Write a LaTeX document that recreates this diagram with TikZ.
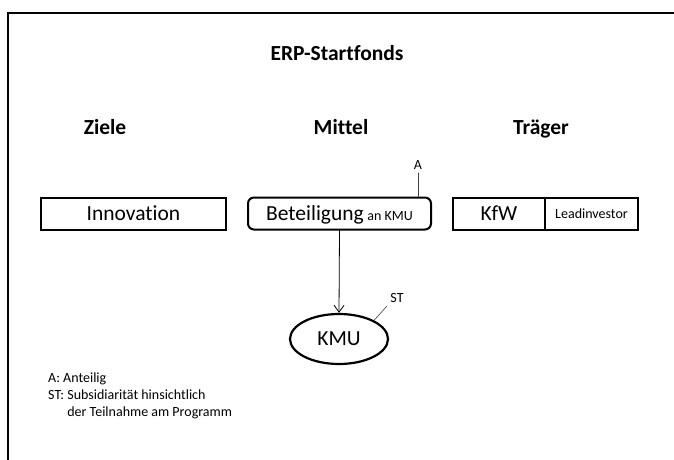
\documentclass[tikz,border=0pt]{standalone}
\usepackage{fontspec}
\setmainfont{Carlito}[Ligatures=NoCommon]
\usetikzlibrary{arrows.meta,shapes.geometric}
\begin{document}
\begin{tikzpicture}[x=1pt,y=-1pt,line cap=round,
	head/.style={anchor=base,font=\fontsize{21.5}{24}\selectfont\bfseries},
	box/.style={draw,line width=2pt,minimum height=32pt,inner sep=0pt,text height=14pt,text depth=0pt,
		font=\fontsize{21.5}{24}\selectfont},
	small/.style={font=\fontsize{14}{16}\selectfont},
	note/.style={draw=black!75,line width=0.6pt}]
	\useasboundingbox (0,0) rectangle (674,460);
	\draw [line width=1.6pt] (8,462) -- (8,13) -- (676,13);
	
	\node [head] (title) at (337,60) {ERP-Startfonds};
	\node [head] (ziele) at (105,134) {Ziele};
	\node [head] (mittel) at (341,134) {Mittel};
	\node [head] (traeger) at (541,134) {Träger};
	
	\node [box,minimum width=185pt] (innov) at (133.5,213.5) {Innovation};
	\node [box,rounded corners=6pt,minimum width=183pt] (bet) at (339.5,213.5)
		{Beteiligung\,{\fontsize{14}{16}\selectfont an KMU}};
	\node [box,minimum width=92pt] (kfw) at (499,213.5) {KfW};
	\node [box,minimum width=93pt,text height=10pt,font=\fontsize{14}{16}\selectfont] (lead) at (591.5,213.5) {Leadinvestor};
	
	\node [draw,ellipse,line width=2.2pt,minimum width=98pt,minimum height=50pt,inner sep=0pt,
		font=\fontsize{21.5}{24}\selectfont] (kmu) at (339,339) {KMU};
	\draw [line width=0.8pt,-{Straight Barb[length=7pt,width=10pt]}] (bet.south) -- (kmu.north);
	
	\node [small] (labA) at (418,165) {A};
	\draw [note] (labA.south) -- (labA |- bet.north);
	\node [small] (labST) at (397,298) {ST};
	\draw [note] (kmu.28) -- (labST.south west);
	
	\node [anchor=north west,align=left,inner sep=0pt,font=\fontsize{14}{17}\selectfont] (legend) at (48,373)
		{A: Anteilig\\ST: Subsidiarität hinsichtlich\\\phantom{ST: }der Teilnahme am Programm};
\end{tikzpicture}
\end{document}
